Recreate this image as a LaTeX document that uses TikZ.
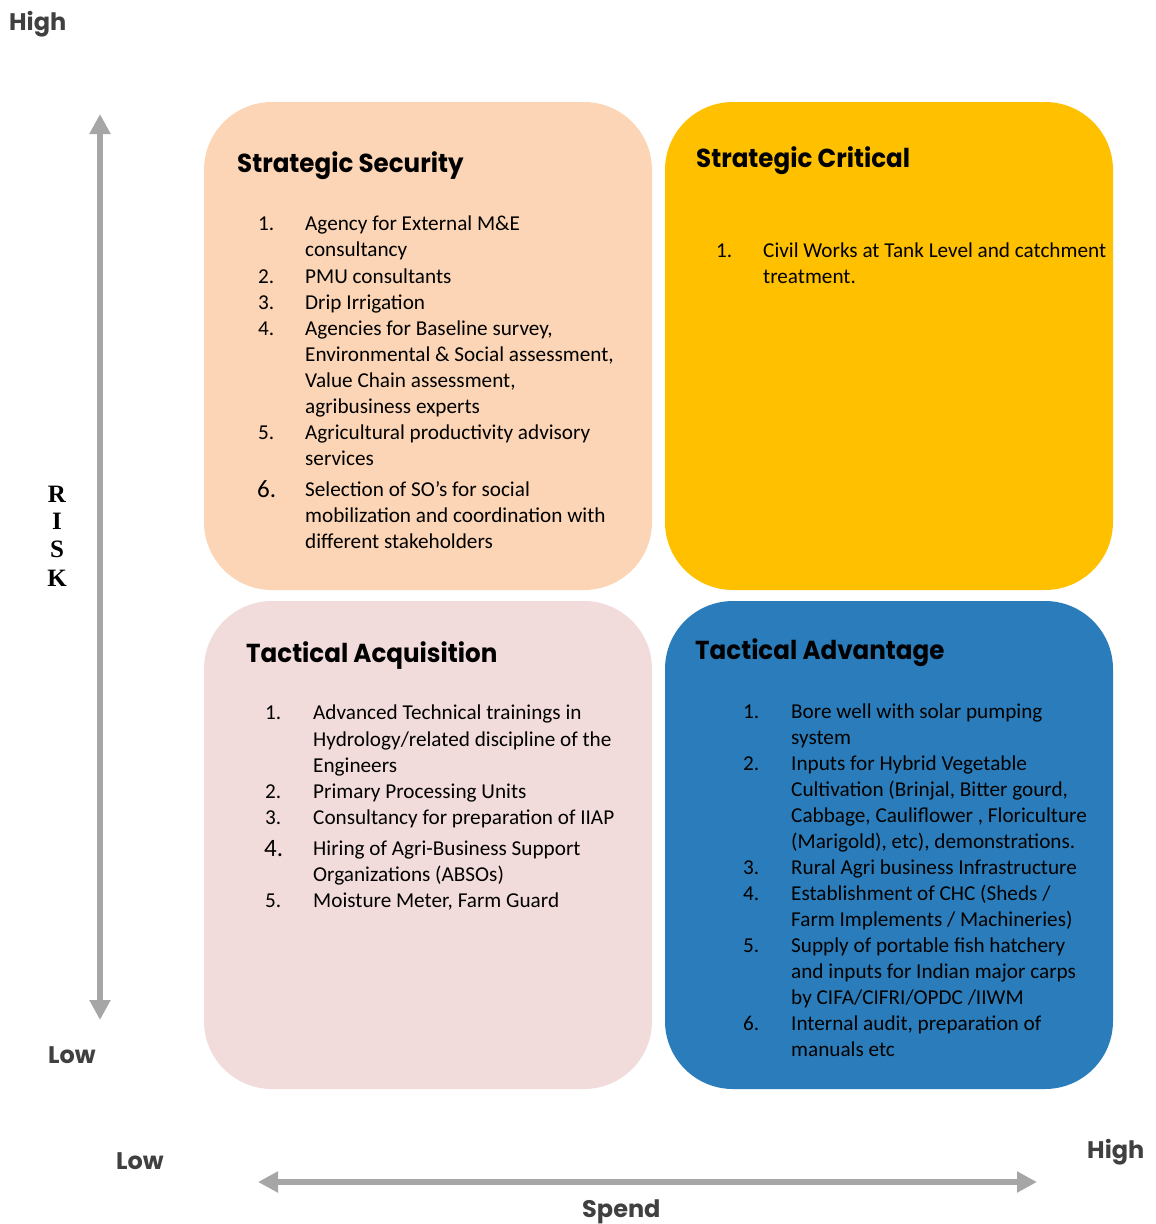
\documentclass[tikz,border=0pt]{standalone}
\usepackage{fontspec}
\usetikzlibrary{arrows.meta}
\setmainfont{Carlito}
\newfontfamily\geofont{Poppins}
\newfontfamily\serifrisk{Liberation Serif}
\definecolor{peach}{HTML}{FBD5B5}
\definecolor{amber}{HTML}{FFC000}
\definecolor{blush}{HTML}{F2DCDB}
\definecolor{steel}{HTML}{2A7DBA}
\definecolor{axisgray}{HTML}{A6A6A6}
\definecolor{labelgray}{HTML}{404040}
\newcommand{\headtext}[1]{\scalebox{0.945}[1]{#1}}
\tikzset{
  quad/.style={minimum width=448pt, minimum height=488pt, rounded corners=68pt, inner sep=0pt, draw=none},
  heading/.style={anchor=base west, inner sep=0pt, font=\geofont\bfseries\fontsize{26}{30}\selectfont},
  body/.style={anchor=base west, inner sep=0pt, font=\fontsize{21.2}{26}\selectfont},
  bignum/.style={anchor=base west, inner sep=0pt, font=\fontsize{25}{26}\selectfont},
  axislabel/.style={anchor=base west, inner sep=0pt, text=labelgray, font=\geofont\bfseries\fontsize{24}{28}\selectfont},
  riskletter/.style={anchor=base, inner sep=0pt, font=\serifrisk\bfseries\fontsize{25}{28}\selectfont},
  axis/.style={draw=axisgray, line width=6pt, {Triangle[width=20pt,length=20pt]}-{Triangle[width=20pt,length=20pt]}}
}
\begin{document}
\begin{tikzpicture}[x=1pt, y=-1pt]
\useasboundingbox (0,0) rectangle (1156,1224);

% quadrants
\node[quad, fill=peach] (ss) at (428,346) {};
\node[quad, fill=amber] (sc) at (889,346) {};
\node[quad, fill=blush] (tq) at (428,845) {};
\node[quad, fill=steel] (tv) at (889,845) {};

% axes
\coordinate (risktop) at (100,114);
\coordinate (riskbot) at (100,1020);
\coordinate (spendleft) at (258,1182);
\coordinate (spendright) at (1037,1182);
\draw[axis] (risktop) -- (riskbot);
\draw[axis] (spendleft) -- (spendright);

% axis labels
\node[axislabel] (highrisk) at (9,30) {High};
\node[axislabel] (lowrisk) at (48,1063) {Low};
\node[axislabel] (lowspend) at (116,1169) {Low};
\node[axislabel] (highspend) at (1087,1158) {High};
\node[axislabel] (spend) at (582,1217) {Spend};
\node[riskletter] (rR) at (57,502) {R};
\node[riskletter] (rI) at (57,529) {I};
\node[riskletter] (rS) at (57,557) {S};
\node[riskletter] (rK) at (57,586) {K};

% Strategic Security
\node[heading] (ssh) at (237,172) {\headtext{Strategic Security}};
\node[body] (ss1n) at (258,230) {1.};
\node[body] (ss1a) at (305,230) {Agency for External M\&E};
\node[body] (ss1b) at (305,256) {consultancy};
\node[body] (ss2n) at (258,283) {2.};
\node[body] (ss2a) at (305,283) {PMU consultants};
\node[body] (ss3n) at (258,309) {3.};
\node[body] (ss3a) at (305,309) {Drip Irrigation};
\node[body] (ss4n) at (258,335) {4.};
\node[body] (ss4a) at (305,335) {Agencies for Baseline survey,};
\node[body] (ss4b) at (305,361) {Environmental \& Social assessment,};
\node[body] (ss4c) at (305,387) {Value Chain assessment,};
\node[body] (ss4d) at (305,413) {agribusiness experts};
\node[body] (ss5n) at (258,439) {5.};
\node[body] (ss5a) at (305,439) {Agricultural productivity advisory};
\node[body] (ss5b) at (305,465) {services};
\node[bignum] (ss6n) at (257,497) {6.};
\node[body] (ss6a) at (305,496) {Selection of SO's for social};
\node[body] (ss6b) at (305,522) {mobilization and coordination with};
\node[body] (ss6c) at (305,548) {different stakeholders};

% Strategic Critical
\node[heading] (sch) at (696,167) {\headtext{Strategic Critical}};
\node[body] (sc1n) at (716,257) {1.};
\node[body] (sc1a) at (763,257) {Civil Works at Tank Level and catchment};
\node[body] (sc1b) at (763,283) {treatment.};

% Tactical Acquisition
\node[heading] (tqh) at (246,662) {\headtext{Tactical Acquisition}};
\node[body] (tq1n) at (265,719) {1.};
\node[body] (tq1a) at (313,719) {Advanced Technical trainings in};
\node[body] (tq1b) at (313,746) {Hydrology/related discipline of the};
\node[body] (tq1c) at (313,772) {Engineers};
\node[body] (tq2n) at (265,798) {2.};
\node[body] (tq2a) at (313,798) {Primary Processing Units};
\node[body] (tq3n) at (265,824) {3.};
\node[body] (tq3a) at (313,824) {Consultancy for preparation of IIAP};
\node[bignum] (tq4n) at (264,856) {4.};
\node[body] (tq4a) at (313,855) {Hiring of Agri-Business Support};
\node[body] (tq4b) at (313,881) {Organizations (ABSOs)};
\node[body] (tq5n) at (265,907) {5.};
\node[body] (tq5a) at (313,907) {Moisture Meter, Farm Guard};

% Tactical Advantage
\node[heading] (tvh) at (695,659) {\headtext{Tactical Advantage}};
\node[body] (tv1n) at (743,718) {1.};
\node[body] (tv1a) at (791,718) {Bore well with solar pumping};
\node[body] (tv1b) at (791,744) {system};
\node[body] (tv2n) at (743,770) {2.};
\node[body] (tv2a) at (791,770) {Inputs for Hybrid Vegetable};
\node[body] (tv2b) at (791,796) {Cultivation (Brinjal, Bitter gourd,};
\node[body] (tv2c) at (791,822) {Cabbage, Cauliflower , Floriculture};
\node[body] (tv2d) at (791,848) {(Marigold), etc), demonstrations.};
\node[body] (tv3n) at (743,874) {3.};
\node[body] (tv3a) at (791,874) {Rural Agri business Infrastructure};
\node[body] (tv4n) at (743,900) {4.};
\node[body] (tv4a) at (791,900) {Establishment of CHC (Sheds /};
\node[body] (tv4b) at (791,926) {Farm Implements / Machineries)};
\node[body] (tv5n) at (743,952) {5.};
\node[body] (tv5a) at (791,952) {Supply of portable fish hatchery};
\node[body] (tv5b) at (791,978) {and inputs for Indian major carps};
\node[body] (tv5c) at (791,1004) {by CIFA/CIFRI/OPDC /IIWM};
\node[body] (tv6n) at (743,1030) {6.};
\node[body] (tv6a) at (791,1030) {Internal audit, preparation of};
\node[body] (tv6b) at (791,1056) {manuals etc};
\end{tikzpicture}
\end{document}
